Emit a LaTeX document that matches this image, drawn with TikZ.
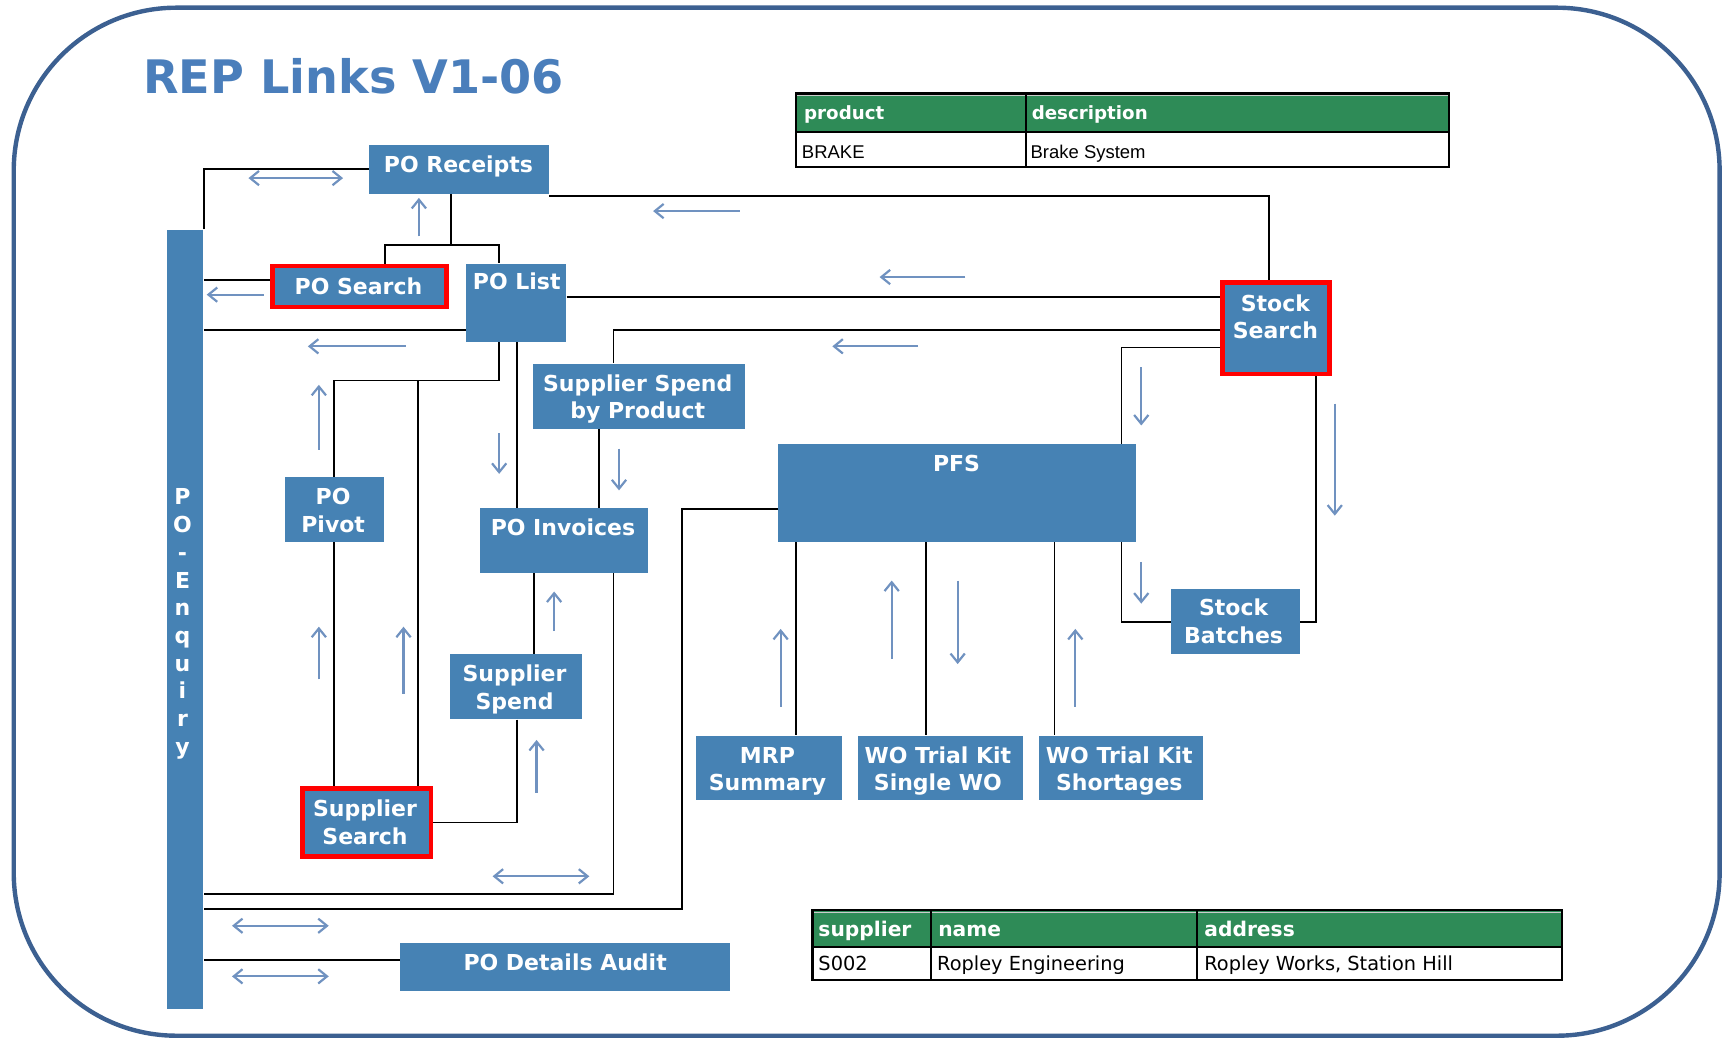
\documentclass[tikz,border=0pt]{standalone}
\usepackage{fontspec}
\setmainfont{DejaVu Sans}
\newfontfamily\arialf{Liberation Sans}
\usetikzlibrary{arrows.meta}
\definecolor{boxblue}{RGB}{70,130,180}
\definecolor{framec}{RGB}{60,96,145}
\definecolor{titlec}{RGB}{74,126,187}
\definecolor{arrowc}{RGB}{112,146,192}
\definecolor{hdrgreen}{RGB}{46,139,87}
\begin{document}
\begin{tikzpicture}[x=0.5pt,y=-0.5pt,
  box/.style={fill=boxblue, inner sep=0pt, draw=none},
  redbox/.style={fill=boxblue, inner sep=0pt, draw=red, line width=2pt},
  lbl/.style={text=white, font=\bfseries\fontsize{10}{12.5}\selectfont, align=center, inner sep=0pt},
  link/.style={line width=0.8pt, black},
  flow/.style={arrowc, line width=1pt, -{Straight Barb[length=4pt,width=6.5pt]}},
  bidi/.style={arrowc, line width=1pt, {Straight Barb[length=4pt,width=6.5pt]}-{Straight Barb[length=4pt,width=6.5pt]}},
  hdr/.style={text=white, font=\bfseries\fontsize{8.3}{10}\selectfont, inner sep=0pt, anchor=base west},
  hdrb/.style={text=white, font=\bfseries\fontsize{9.2}{11}\selectfont, inner sep=0pt, anchor=base west},
  cellt/.style={font=\arialf\fontsize{8.4}{10}\selectfont, inner sep=0pt, anchor=base west},
  cellb/.style={font=\fontsize{8.8}{10}\selectfont, inner sep=0pt, anchor=base west}]
\useasboundingbox (0,0) rectangle (1568,945);
\draw[framec, line width=2pt, rounded corners=74pt] (12.5,7) rectangle (1564,942);

% title
\node[anchor=base west, text=titlec, font=\bfseries\fontsize{21}{25}\selectfont, inner sep=0pt] (title) at (130,85) {REP Links V1-06};

% top table
\fill[hdrgreen] (724,85) rectangle (1318,120);
\draw[gray!40, line width=0.6pt] (725,87) -- (1317,87);
\draw[line width=1pt] (724,85) rectangle (1318,152);
\draw[line width=1pt] (724,120) -- (1318,120);
\draw[line width=1pt] (933,85) -- (933,152);
\node[hdr] (tprod) at (731,109) {product};
\node[hdr] (tdesc) at (938,109) {description};
\node[cellt] (tbrake) at (729,144) {BRAKE};
\node[cellt] (tbsys) at (937,144) {Brake System};

% bottom table
\fill[hdrgreen] (739,828) rectangle (1421,861);
\draw[gray!40, line width=0.6pt] (740,830) -- (1420,830);
\draw[line width=1pt] (739,828) rectangle (1421,891);
\draw[line width=1pt] (739,861) -- (1421,861);
\draw[line width=1pt] (847,828) -- (847,891);
\draw[line width=1pt] (1089,828) -- (1089,891);
\node[hdrb] (bsup) at (744,852) {supplier};
\node[hdrb] (bname) at (853,852) {name};
\node[hdrb] (baddr) at (1095,852) {address};
\node[cellb] (bs) at (744,883) {S002};
\node[cellb] (bn) at (852,883) {Ropley Engineering};
\node[cellb] (ba) at (1095,883) {Ropley Works, Station Hill};

% boxes
\node[box, minimum width=81.5pt, minimum height=22pt] (rec) at (417.5,154) {};
\node[redbox, minimum width=79pt, minimum height=18.5pt] (srch) at (327,260.5) {};
\node[box, minimum width=45.5pt, minimum height=35.5pt] (list) at (469.5,275.5) {};
\node[box, minimum width=16.5pt, minimum height=354.5pt] (enq) at (168.5,563.5) {};
\node[box, minimum width=96.5pt, minimum height=29.5pt] (ssbp) at (581.5,360.5) {};
\node[box, minimum width=45pt, minimum height=29.5pt] (pivot) at (304,463.5) {};
\node[box, minimum width=76pt, minimum height=29.5pt] (inv) at (513,491.5) {};
\node[box, minimum width=60pt, minimum height=29.5pt] (sspend) at (469,624.5) {};
\node[redbox, minimum width=58.5pt, minimum height=31pt] (ssearch) at (333.5,748) {};
\node[box, minimum width=162.5pt, minimum height=44.5pt] (pfs) at (870.5,448.5) {};
\node[redbox, minimum width=48.5pt, minimum height=41.5pt] (stock) at (1160.5,298.5) {};
\node[box, minimum width=58.5pt, minimum height=29.5pt] (batches) at (1123.5,565.5) {};
\node[box, minimum width=66.5pt, minimum height=29.5pt] (mrp) at (699.5,698.5) {};
\node[box, minimum width=75pt, minimum height=29.5pt] (wos) at (855,698.5) {};
\node[box, minimum width=74.5pt, minimum height=29.5pt] (wosh) at (1019.5,698.5) {};
\node[box, minimum width=150pt, minimum height=21.5pt] (audit) at (514,879.5) {};

% box texts (base anchor = baseline of the last line)
\node[lbl, anchor=base] (rect) at (417,157) {PO Receipts};
\node[lbl, anchor=base] (srcht) at (326,268) {PO Search};
\node[lbl, anchor=base] (listt) at (470,263) {PO List};
\node[lbl, anchor=base, font=\bfseries\fontsize{10}{12.6}\selectfont] (enqt) at (166,686) {P\\O\\-\\E\\n\\q\\u\\i\\r\\y};
\node[lbl, anchor=base] (ssbpt) at (580,381) {Supplier Spend\\by Product};
\node[lbl, anchor=base] (pivott) at (303,484) {PO\\Pivot};
\node[lbl, anchor=base] (invt) at (512,487) {PO Invoices};
\node[lbl, anchor=base] (sspendt) at (468,645) {Supplier\\Spend};
\node[lbl, anchor=base] (ssearcht) at (332,768) {Supplier\\Search};
\node[lbl, anchor=base] (pfst) at (870,429) {PFS};
\node[lbl, anchor=base] (stockt) at (1160,308) {Stock\\Search};
\node[lbl, anchor=base] (batchest) at (1122,585) {Stock\\Batches};
\node[lbl, anchor=base] (mrpt) at (698,719) {MRP\\Summary};
\node[lbl, anchor=base] (wost) at (853,719) {WO Trial Kit\\Single WO};
\node[lbl, anchor=base] (wosht) at (1018,719) {WO Trial Kit\\Shortages};
\node[lbl, anchor=base] (auditt) at (514,883) {PO Details Audit};

% connectors
\draw[link] (rec.west) -| (enq.north east);
\draw[link] (410,0 |- rec.south) -- (410,223);
\draw[link] (350,0 |- srch.north) |- (454,223) -- (454,0 |- list.north);
\draw[link] (enq.east |- 0,255) -- (srch.west |- 0,255);
\draw[link] (enq.east |- 0,300) -- (list.west |- 0,300);
\draw[link] (rec.east |- 0,178) -| (1154,0 |- stock.north);
\draw[link] (list.east |- 0,270) -- (stock.west |- 0,270);
\draw[link] (stock.west |- 0,300) -| (558,0 |- ssbp.north);
\draw[link] (stock.west |- 0,316) -| (1020,0 |- pfs.north);
\draw[link] (1020,0 |- pfs.south) |- (batches.west);
\draw[link] (1197,0 |- stock.south) |- (batches.east);
\draw[link] (454,0 |- list.south) |- (pivot.north |- 0,346) -- (pivot.north);
\draw[link] (380,346) -- (380,0 |- ssearch.north);
\draw[link] (pivot.south) -- (pivot.south |- ssearch.north);
\draw[link] (470,0 |- list.south) -- (470,0 |- inv.north);
\draw[link] (545,0 |- ssbp.south) -- (545,0 |- inv.north);
\draw[link] (486,0 |- inv.south) -- (486,0 |- sspend.north);
\draw[link] (470,0 |- sspend.south) |- (ssearch.east);
\draw[link] (558,0 |- inv.south) |- (enq.east |- 0,813);
\draw[link] (pfs.west |- 0,463) -| (620,827) -- (enq.east |- 0,827);
\draw[link] (audit.west |- 0,873) -- (enq.east |- 0,873);
\draw[link] (724,0 |- pfs.south) -- (724,0 |- mrp.north);
\draw[link] (842,0 |- pfs.south) -- (842,0 |- wos.north);
\draw[link] (959,0 |- pfs.south) -- (959,0 |- wosh.north);

% flow arrows
\draw[bidi] (226,162) -- (312,162);
\draw[flow] (381,215) -- (381,180);
\draw[flow] (673,192) -- (594,192);
\draw[flow] (878,252) -- (800,252);
\draw[flow] (240,268) -- (188,268);
\draw[flow] (369,315) -- (280,315);
\draw[flow] (835,315) -- (757,315);
\draw[flow] (290,409) -- (290,350);
\draw[flow] (454,394) -- (454,431);
\draw[flow] (563,408) -- (563,446);
\draw[flow] (1038,334) -- (1038,387);
\draw[flow] (1214,367) -- (1214,469);
\draw[flow] (1038,511) -- (1038,549);
\draw[flow] (290,618) -- (290,570);
\draw[flow] (367,631) -- (367,570);
\draw[flow] (504,574) -- (504,538);
\draw[flow] (488,721) -- (488,673);
\draw[flow] (710,643) -- (710,572);
\draw[flow] (811,599) -- (811,528);
\draw[flow] (871,528) -- (871,604);
\draw[flow] (978,643) -- (978,572);
\draw[bidi] (448,797) -- (536,797);
\draw[bidi] (211,842) -- (299,842);
\draw[bidi] (211,888) -- (299,888);
\end{tikzpicture}
\end{document}
